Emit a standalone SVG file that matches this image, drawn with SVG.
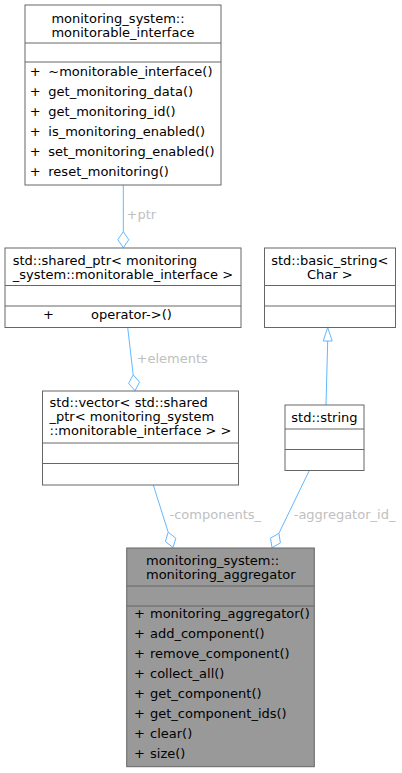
<svg xmlns="http://www.w3.org/2000/svg" width="402" height="773" viewBox="0 0 402 773">
<style>
.box{fill:#ffffff;stroke:#666666;stroke-width:1}
.focus{fill:#999999;stroke:#666666;stroke-width:1}
.sep{stroke:#666666;stroke-width:1;fill:none}
text{font-family:"DejaVu Sans","Liberation Sans",sans-serif;font-size:13px;fill:#000000}
.c{text-anchor:middle}
.lbl{fill:#c0c0c0}
.edge{stroke:#63b8ff;stroke-width:1;fill:none}
.head{stroke:#63b8ff;stroke-width:1;fill:#ffffff}
</style>
<rect width="402" height="773" fill="#ffffff"/>
<g id="connectors">
<path class="edge" d="M123.3,185 L123.3,231.7"/>
<polygon class="head" points="123.3,247.7 117.8,239.7 123.3,231.7 128.8,239.7"/>
<text class="lbl" x="126.5" y="219">+ptr</text>
<path class="edge" d="M127.7,327.5 L133.2,374.8"/>
<polygon class="head" points="135,390.7 139.56,382.1 133.2,374.8 128.64,383.4"/>
<text class="lbl" x="136.5" y="362.5">+elements</text>
<path class="edge" d="M326,405 L327.7,341"/>
<polygon class="head" points="327.7,327.5 332.2,341 323.2,341"/>
<path class="edge" d="M153.3,485 L168.2,532.2"/>
<polygon class="head" points="173,547.5 175.85,538.2 168.2,532.2 165.35,541.5"/>
<text class="lbl" x="169.5" y="519">-components_</text>
<path class="edge" d="M309.3,470.5 L278.9,533.3"/>
<polygon class="head" points="272,547.7 280.4,542.9 278.9,533.3 270.5,538.1"/>
<text class="lbl" x="293.7" y="519">-aggregator_id_</text>
</g>
<g id="monitorable_interface">
<rect class="box" x="25" y="5" width="196" height="180"/>
<path class="sep" d="M25,43 H221 M25,62 H221"/>
<text x="51.4" y="22.7">monitoring_system::</text>
<text x="51.4" y="36.7">monitorable_interface</text>
<text x="29.7" y="76">+</text><text x="48.3" y="76">~monitorable_interface()</text>
<text x="29.7" y="96">+</text><text x="48.3" y="96">get_monitoring_data()</text>
<text x="29.7" y="116">+</text><text x="48.3" y="116">get_monitoring_id()</text>
<text x="29.7" y="136">+</text><text x="48.3" y="136">is_monitoring_enabled()</text>
<text x="29.7" y="156">+</text><text x="48.3" y="156">set_monitoring_enabled()</text>
<text x="29.7" y="176">+</text><text x="48.3" y="176">reset_monitoring()</text>
</g>
<g id="shared_ptr">
<rect class="box" x="5" y="248" width="236" height="79.5"/>
<path class="sep" d="M5,285.5 H241 M5,306 H241"/>
<text x="12.7" y="264.5">std::shared_ptr&lt; monitoring</text>
<text x="12.7" y="278.5">_system::monitorable_interface &gt;</text>
<text x="43" y="318.5">+</text><text x="91" y="318.5">operator-&gt;()</text>
</g>
<g id="basic_string">
<rect class="box" x="264.5" y="248" width="131" height="79.5"/>
<path class="sep" d="M264.5,285.5 H395.5 M264.5,306 H395.5"/>
<text class="c" x="329.8" y="264.5">std::basic_string&lt;</text>
<text class="c" x="329.8" y="278.5">Char &gt;</text>
</g>
<g id="vector">
<rect class="box" x="42.5" y="391" width="196" height="94"/>
<path class="sep" d="M42.5,443 H238.5 M42.5,463.5 H238.5"/>
<text x="49.5" y="407">std::vector&lt; std::shared</text>
<text x="49.5" y="421">_ptr&lt; monitoring_system</text>
<text x="49.5" y="435">::monitorable_interface &gt; &gt;</text>
</g>
<g id="string">
<rect class="box" x="285" y="405" width="79" height="65.5"/>
<path class="sep" d="M285,429 H364 M285,449.5 H364"/>
<text class="c" x="324.4" y="422">std::string</text>
</g>
<g id="monitoring_aggregator">
<rect class="focus" x="126.7" y="548" width="187.6" height="218.7"/>
<path class="sep" d="M126.7,586 H314.3 M126.7,606 H314.3"/>
<text x="146" y="565">monitoring_system::</text>
<text x="146" y="579">monitoring_aggregator</text>
<text x="134" y="618">+</text><text x="150" y="618">monitoring_aggregator()</text>
<text x="134" y="638">+</text><text x="150" y="638">add_component()</text>
<text x="134" y="658">+</text><text x="150" y="658">remove_component()</text>
<text x="134" y="678">+</text><text x="150" y="678">collect_all()</text>
<text x="134" y="698">+</text><text x="150" y="698">get_component()</text>
<text x="134" y="718">+</text><text x="150" y="718">get_component_ids()</text>
<text x="134" y="738">+</text><text x="150" y="738">clear()</text>
<text x="134" y="758">+</text><text x="150" y="758">size()</text>
</g>
</svg>
